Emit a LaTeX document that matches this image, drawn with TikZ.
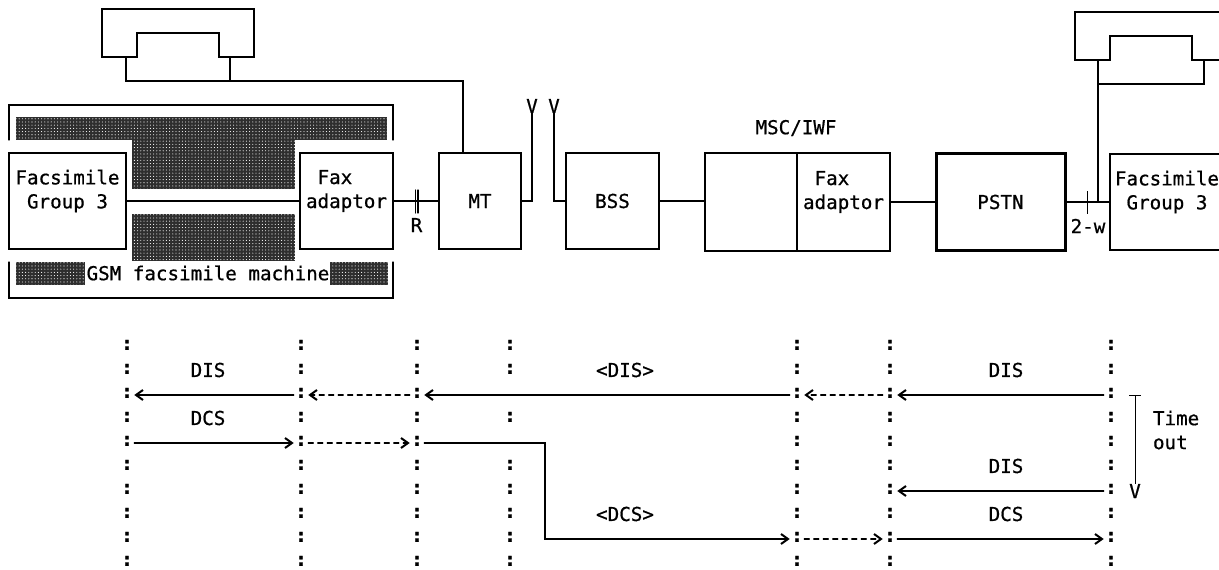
\documentclass[tikz,border=0pt]{standalone}
\usepackage{fontspec}
\setmainfont{DejaVu Sans Mono}[FakeBold=0.7]
\usetikzlibrary{arrows.meta,patterns.meta}
\tikzset{
  wire/.style={line width=1.3pt,line cap=round,line join=miter},
  flow/.style={wire,-{Straight Barb[length=7pt,width=10pt,line width=2pt]}},
  dashflow/.style={flow,dash pattern=on 5pt off 4.5pt},
  blk/.style={draw,line width=1.3pt,inner sep=0pt,outer sep=0pt,align=left,font=\monotxt},
  txt/.style={inner sep=0pt,outer sep=0pt,font=\monotxt,align=left},
  dots/.style={inner sep=1.5pt,outer sep=0pt,font=\monotxt\bfseries,text height=0.56em,text depth=0pt},
  hatch/.style={fill=black!82,draw=none},
  hatchdots/.style={pattern={Dots[distance=3.2pt,radius=0.55pt]},pattern color=white,draw=none},
}
\newcommand{\monotxt}{\fontsize{19.2}{24}\selectfont}
\begin{document}
\begin{tikzpicture}[x=1pt,y=-1pt]
\useasboundingbox (0,0) rectangle (1219,570);
\clip (0,0) rectangle (1219,570);
% shaded areas
\foreach \a/\b in {{16,117}/{387,140},{132,140}/{295,189},{132,214}/{295,261},{16,262}/{85,285},{330,262}/{388,285}}{
  \fill[hatch] (\a) rectangle (\b);
  \fill[hatchdots] (\a) rectangle (\b);
}
% GSM enclosure
\draw[wire] (9,140) -- (9,105) -- (393,105) -- (393,140);
\draw[wire] (9,262) -- (9,298) -- (393,298) -- (393,262);
\node[txt] (gsmlabel) at (208,273) {GSM facsimile machine};
% blocks
\node[blk,minimum width=117pt,minimum height=96pt] (fg3l) at (67.5,201) {Facsimile\\~Group 3\\~};
\node[blk,minimum width=93pt,minimum height=96pt] (fal) at (346.5,201) {~Fax\\adaptor\\~};
\node[blk,minimum width=82pt,minimum height=96pt] (mt) at (480,201) {MT};
\node[blk,minimum width=93pt,minimum height=96pt] (bss) at (612.5,201) {BSS};
\node[blk,minimum width=92pt,minimum height=98pt] (msca) at (751,202) {};
\node[blk,minimum width=93pt,minimum height=98pt] (mscb) at (843.5,202) {~Fax\\adaptor\\~};
\node[blk,line width=3pt,minimum width=129pt,minimum height=97pt] (pstn) at (1000.5,202) {PSTN};
\node[blk,minimum width=114pt,minimum height=96pt] (fg3r) at (1167,202) {Facsimile\\~Group 3\\~};
\node[txt] (msclabel) at (796,128) {MSC/IWF};
% reference points
\node[txt] (rlabel) at (416.5,225) {R};
\node[txt] (wlabel) at (1088,226) {2-w};
\node[txt] (v1) at (532,106) {V};
\node[txt] (v2) at (554,106) {V};
\coordinate (v1b) at (532,201);
\coordinate (v2b) at (554,201);
\coordinate (rt1) at (415.5,190); \coordinate (rb1) at (415.5,213);
\coordinate (rt2) at (418,190); \coordinate (rb2) at (418,213);
\coordinate (wt) at (1087,191); \coordinate (wb) at (1087,214);
% connectors
\draw[wire] (fg3l.east) -- (fal.west);
\draw[wire] (fal.east) -- (mt.west);
\draw[wire] (rt1) -- (rb1);
\draw[wire] (rt2) -- (rb2);
\draw[wire] (mt.east) -- (v1b) -- (v1.south);
\draw[wire] (bss.west) -- (v2b) -- (v2.south);
\draw[wire] (bss.east) -- (bss.east -| msca.west);
\draw[wire] (mscb.east) -- (pstn.west);
\draw[wire] (pstn.east) -- (fg3r.west);
\draw[line width=1pt] (wt) -- (wb);
% left handset
\draw[wire] (102,57) -- (102,9) -- (254,9) -- (254,57) -- (219,57) -- (219,33) -- (137,33) -- (137,57) -- cycle;
\coordinate (hl1) at (126,57);
\coordinate (hl2) at (230,57);
\coordinate (hl3) at (230,81);
\draw[wire] (hl1) -- (126,81) -- (463,81) -- (mt.north -| 463,81);
\draw[wire] (hl2) -- (hl3);
% right handset
\draw[wire] (1240,12) -- (1075,12) -- (1075,60) -- (1110,60) -- (1110,36) -- (1192,36) -- (1192,60) -- (1240,60);
\coordinate (hr1) at (1098,60);
\coordinate (hr2) at (1204,60);
\coordinate (hj) at (1098,202);
\draw[wire] (hj) -- (hr1);
\draw[wire] (1098,84) -- (1204,84) -- (hr2);
% time lines
\foreach \n/\x in {a/127,b/301,c/417,e/797,f/890,g/1111}{
  \foreach \r in {1,...,10}{
    \node[dots] (\n\r) at (\x,{347+24*(\r-1)}) {:};
  }
}
\foreach \r in {1,2,4,6,7,8,9,10}{
  \node[dots] (d\r) at (510,{347+24*(\r-1)}) {:};
}
% messages
\node[txt] (dis1) at (208,370) {DIS};
\node[txt] (dcs1) at (208,418) {DCS};
\node[txt] (dis2) at (625,370) {<DIS>};
\node[txt] (dcs2) at (625,514) {<DCS>};
\node[txt] (dis3) at (1006,370) {DIS};
\node[txt] (dis4) at (1006,466) {DIS};
\node[txt] (dcs3) at (1006,514) {DCS};
\draw[flow] (b3.west) -- (a3.east);
\draw[dashflow] (c3.west) -- (b3.east);
\draw[flow] (e3.west) -- (c3.east);
\draw[dashflow] (f3.west) -- (e3.east);
\draw[flow] (g3.west) -- (f3.east);
\draw[flow] (a5.east) -- (b5.west);
\draw[dashflow] (b5.east) -- (c5.west);
\coordinate (ka) at (545,443);
\coordinate (kb) at (545,539);
\draw[flow] (c5.east) -- (ka) -- (kb) -- (e9.west);
\draw[dashflow] (e9.east) -- (f9.west);
\draw[flow] (f9.east) -- (g9.west);
\draw[flow] (g7.west) -- (f7.east);
% time-out
\coordinate (tl) at (1129,395);
\coordinate (tr) at (1141,395);
\coordinate (tm) at (1135,395);
\node[txt] (tv) at (1135,491) {V};
\node[txt,anchor=west] (timeout) at (1153,430) {Time\\out};
\draw[line width=1pt] (tl) -- (tr);
\draw[line width=1pt] (tm) -- (tv.north);
\end{tikzpicture}
\end{document}
